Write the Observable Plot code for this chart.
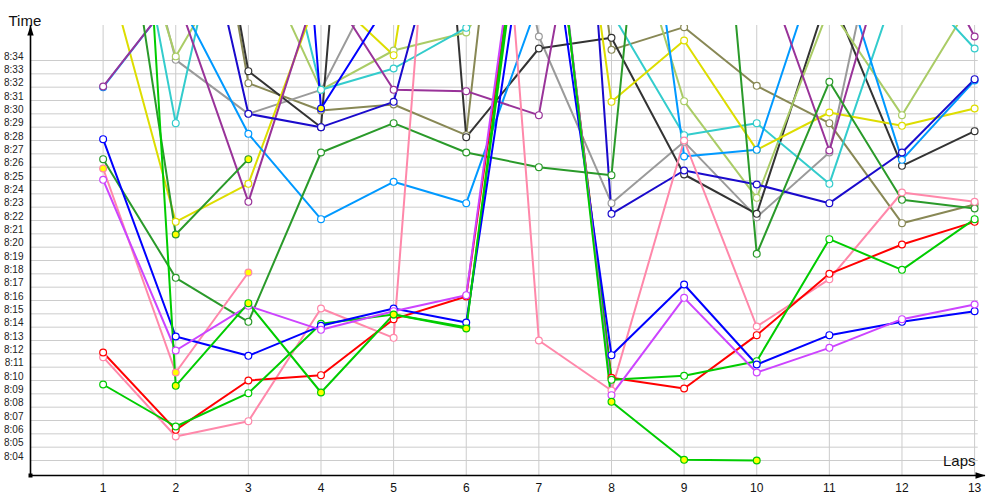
<!DOCTYPE html>
<html>
<head>
<meta charset="utf-8">
<script src="https://cdn.jsdelivr.net/npm/d3@7"></script>
<script src="https://cdn.jsdelivr.net/npm/@observablehq/plot@0.6"></script>
<style>
  html, body { margin: 0; padding: 0; background: #fff; }
  #chart svg { display: block; }
</style>
</head>
<body>
<div id="chart"></div>
<script>
// Laps on the x axis
const laps = [1, 2, 3, 4, 5, 6, 7, 8, 9, 10, 11, 12, 13];
// Y tick labels: minutes after 8:00 that carry a gridline and label
const minuteTicks = d3.range(4, 35);
const tickLabels = minuteTicks.map(m => "8:" + String(m).padStart(2, "0"));

// Lap times, in minutes after 8:00 (values above ~8:36.6 run off the top of the chart)
const red      = [12.1, 6.3, 10.0, 10.4, 14.6, 16.3, 55, 10.2, 9.4, 13.4, 18.0, 20.2, 21.9];
const pink     = [11.75, 5.8, 6.95, 15.4, 13.2, 84, 13.0, 9.25, 28.0, 14.05, 17.6, 24.1, 23.4];
const pinkY    = [25.9, 10.6, 18.1, null, null, null, null, null, null, null, null, null, null];
const greenW   = [9.7, 6.55, 9.05, 14.25, 14.95, 14.0, 55, 10.05, 10.35, 11.45, 20.6, 18.3, 22.1];
const greenY   = [100, 9.6, 15.8, 9.1, 14.95, 13.9, 56.5, 8.4, 4.05, 4.0, null, null, null];
const dkgreen  = [26.6, 17.7, 14.4, 27.1, 29.3, 27.1, 26.0, 25.4, 80, 19.5, 32.4, 23.55, 22.9];
const dkgreenY = [56.5, 20.95, 26.6, null, null, null, null, null, null, null, null, null, null];
const blue     = [28.1, 13.3, 11.85, 14.1, 15.4, 14.35, 50.5, 11.9, 17.2, 11.2, 13.4, 14.4, 15.2];
const blueY    = [null, null, 100, 30.4, 39, null, null, null, null, null, null, null, null];
const violet   = [25.05, 12.25, 15.6, 13.8, 15.2, 16.4, 56.5, 8.9, 16.2, 10.6, 12.45, 14.6, 15.7];
const purple   = [32.05, 39, 23.4, 40.3, 31.8, 31.7, 29.9, 60, 55, 42.5, 27.25, 46, 35.8];
const skyblue  = [32.0, 39, 28.5, 22.1, 24.9, 23.3, 38.5, 67, 26.8, 27.3, 43.8, 26.55, 32.5];
const cyan     = [58, 29.3, 54, 31.8, 33.4, 36.45, 45, 37.6, 28.4, 29.3, 24.75, 40.8, 34.9];
const yellow   = [42, 21.9, 24.75, 39.5, 34.4, 68, 70, 30.9, 35.5, 27.3, 30.1, 29.1, 30.4];
const yellowgr = [52, 34.3, 43.6, 31.8, 34.75, 36.1, 45, 48.8, 30.95, 23.7, 38, 29.9, 38.8];
const olive    = [null, 63.8, 32.3, 30.25, 30.7, 28.4, 76, 34.8, 36.5, 32.1, 29.3, 21.8, 23.2];
const gray     = [55, 34.05, 30.0, 31.8, 42.4, 63, 35.8, 23.3, 27.9, 22.25, 27.1, 52.5, null];
const black    = [null, 64, 33.2, 29.0, 95, 28.25, 34.9, 35.7, 25.45, 22.5, 39.2, 26.1, 28.7];
const indigo   = [null, 54, 30.0, 29.0, 30.9, 51, 100, 22.5, 25.75, 24.7, 23.3, 27.1, 32.6];

const seriesList = [
  {name: "olive",    color: "#888855", fill: "#ffffff", values: olive},
  {name: "gray",     color: "#9a9a9a", fill: "#ffffff", values: gray},
  {name: "black",    color: "#333333", fill: "#ffffff", values: black},
  {name: "yellowgr", color: "#aacc66", fill: "#ffffff", values: yellowgr},
  {name: "cyan",     color: "#33cccc", fill: "#ffffff", values: cyan},
  {name: "yellow",   color: "#dddd00", fill: "#ffffff", values: yellow},
  {name: "skyblue",  color: "#0099ff", fill: "#ffffff", values: skyblue},
  {name: "purple",   color: "#993399", fill: "#ffffff", values: purple},
  {name: "indigo",   color: "#1a0acc", fill: "#ffffff", values: indigo},
  {name: "blueY",    color: "#0000ff", fill: "#ffff00", values: blueY},
  {name: "dkgreen",  color: "#2a9a2a", fill: "#ffffff", values: dkgreen},
  {name: "dkgreenY", color: "#2a9a2a", fill: "#ffff00", values: dkgreenY},
  {name: "pinkY",    color: "#ff88aa", fill: "#ffff00", values: pinkY},
  {name: "pink",     color: "#ff88aa", fill: "#ffffff", values: pink},
  {name: "red",      color: "#ff0000", fill: "#ffffff", values: red},
  {name: "greenW",   color: "#00cc00", fill: "#ffffff", values: greenW},
  {name: "blue",     color: "#0000ff", fill: "#ffffff", values: blue},
  {name: "violet",   color: "#cc44ff", fill: "#ffffff", values: violet},
  {name: "greenY",   color: "#00cc00", fill: "#ffff00", values: greenY}
];

const rows = seriesList.flatMap(s =>
  laps.map((lap, i) => ({series: s.name, color: s.color, fill: s.fill, lap, time: s.values[i]}))
);

const yMin = 2.875, yMax = 36.625;
const font = "Liberation Sans, Arial, sans-serif";

const upArrow = {draw(ctx) { ctx.moveTo(0, 0); ctx.lineTo(3.2, 10); ctx.lineTo(-3.2, 10); ctx.closePath(); }};
const rightArrow = {draw(ctx) { ctx.moveTo(0, 0); ctx.lineTo(-10, 3.2); ctx.lineTo(-10, -3.2); ctx.closePath(); }};
const square = {draw(ctx) { ctx.rect(-2, -2, 4, 4); }};

const chart = Plot.plot({
  width: 1000,
  height: 500,
  marginLeft: 30,
  marginRight: 15,
  marginTop: 25,
  marginBottom: 25,
  style: {fontFamily: font, background: "#fff"},
  x: {domain: [0, 13.15], axis: null},
  y: {domain: [yMin, yMax], axis: null},
  color: {type: "identity"},
  marks: [
    // grid
    Plot.ruleY(minuteTicks, {y: d => d, x1: 0, x2: 13.05, stroke: "#cccccc", strokeWidth: 1}),
    Plot.ruleX(laps, {x: d => d, y1: yMin, y2: yMax, stroke: "#cccccc", strokeWidth: 1}),
    // tick labels
    Plot.text(minuteTicks, {x: 0, y: d => d, text: (d, i) => tickLabels[i], textAnchor: "end", dx: -7, dy: -4, fontSize: 10, fill: "#222"}),
    Plot.text(laps, {x: d => d, y: yMin, text: d => String(d), dy: 13, fontSize: 12, fill: "#111"}),
    // series
    Plot.line(rows, {x: "lap", y: "time", z: "series", stroke: "color", strokeWidth: 2, clip: true, curve: "linear"}),
    Plot.dot(rows, {x: "lap", y: "time", stroke: "color", fill: "fill", r: 3.4, strokeWidth: 1.2, clip: true}),
    // axes
    Plot.ruleX([0], {stroke: "#000", strokeWidth: 1.6}),
    Plot.ruleY([yMin], {stroke: "#000", strokeWidth: 1.6}),
    Plot.dot([0], {frameAnchor: "top-left", symbol: upArrow, fill: "#000", stroke: null, r: 5}),
    Plot.dot([0], {frameAnchor: "bottom-right", symbol: rightArrow, fill: "#000", stroke: null, r: 5}),
    Plot.dot([0], {frameAnchor: "bottom-left", symbol: square, fill: "#000", stroke: null, r: 2}),
    Plot.text(["Time"], {frameAnchor: "top-left", text: d => d, textAnchor: "start", dx: -22, dy: -10, fontSize: 15, fill: "#111"}),
    Plot.text(["Laps"], {frameAnchor: "bottom-right", text: d => d, textAnchor: "end", dx: -10, dy: -10, fontSize: 15, fill: "#111"})
  ]
});

document.getElementById("chart").appendChild(chart);
</script>
</body>
</html>
